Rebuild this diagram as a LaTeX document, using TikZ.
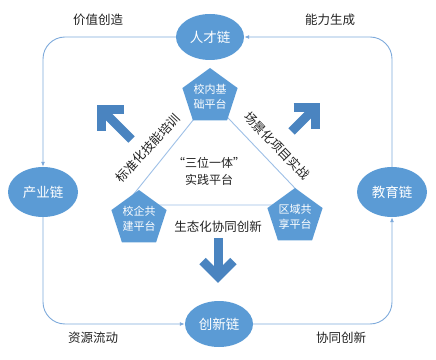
\documentclass[tikz,border=0pt]{standalone}
\usepackage{fontspec}
\newfontfamily\cjkfont{Noto Sans CJK SC}
\usepackage{tikz}
\usetikzlibrary{shapes.geometric, arrows.meta}
\definecolor{ChainBlue}{HTML}{5B9BD5}
\definecolor{ArrowBlue}{HTML}{4A84C0}
\definecolor{LoopBlue}{HTML}{7EAADB}
\definecolor{TriBlue}{HTML}{9DBFE6}
\definecolor{TextDark}{HTML}{222222}

\begin{document}
\begin{tikzpicture}[x=1pt, y=1pt,
  every node/.style={font=\cjkfont\fontsize{12.5}{15}\selectfont, text=TextDark},
  chain/.style={ellipse, fill=ChainBlue, text=white, inner sep=0pt,
    minimum width=68pt, minimum height=46pt, font=\cjkfont\fontsize{13.5}{16}\selectfont},
  platform/.style={regular polygon, regular polygon sides=5, fill=ChainBlue, text=white,
    minimum size=58pt, inner sep=0pt, align=center, font=\cjkfont\fontsize{11}{15}\selectfont},
  flow/.style={LoopBlue, line width=0.9pt, rounded corners=22pt, -{Latex[length=5pt, width=4pt]}},
  tri/.style={TriBlue, line width=0.9pt},
  bigarrow/.style={ArrowBlue, line width=9pt, line join=miter, line cap=butt}]
  \useasboundingbox (0,0) rectangle (436,359);
  % Chains round the loop
  \node[chain] (talent) at (210,322) {人才链};
  \node[chain, minimum width=70pt, minimum height=50pt] (industry) at (43,167) {产业链};
  \node[chain, minimum width=70pt, minimum height=50pt] (education) at (392,167) {教育链};
  \node[chain] (innovation) at (219,35) {创新链};
  % Loop connectors
  \draw[flow] (talent.west) -| (industry.north);
  \draw[flow] (industry.south) |- (innovation.west);
  \draw[flow] (innovation.east) -| (education.south);
  \draw[flow] (education.north) |- (talent.east);
  % Loop labels
  \node (value) at (98,339) {价值创造};
  \node (ability) at (330,339) {能力生成};
  \node (resource) at (93,21) {资源流动};
  \node (cooperate) at (341,21) {协同创新};
  % Triangle behind the platforms
  \coordinate (tri-top) at (210,260);
  \coordinate (tri-left) at (125,154);
  \coordinate (tri-right) at (311,154);
  \draw[tri] (tri-top) -- (tri-left) -- (tri-right) -- cycle;
  % Platforms
  \node[platform] (campus) at (210,262) {校内基\\础平台};
  \node[platform] (enterprise) at (139,140) {校企共\\建平台};
  \node[platform] (region) at (295,142) {区域共\\享平台};
  % Texts inside and along the triangle
  \node[align=center, font=\cjkfont\fontsize{12}{17}\selectfont] (core) at (209,188) {“三位一体”\\实践平台};
  \node[rotate=47] (skill) at (148,211) {标准化技能培训};
  \node[rotate=-46] (scene) at (277,213) {场景化项目实战};
  \node (eco) at (218,132) {生态化协同创新};
  % Big arrows
  \coordinate (ul-tip) at (101.5,249.5);
  \draw[bigarrow] (ul-tip) ++(22,0) -- (ul-tip) -- ++(0,-22);
  \draw[bigarrow] (ul-tip) -- ++(30,-30);
  \coordinate (ur-tip) at (315.5,251.5);
  \draw[bigarrow] (ur-tip) ++(-22,0) -- (ur-tip) -- ++(0,-22);
  \draw[bigarrow] (ur-tip) -- ++(-24,-24);
  \coordinate (dn-tip) at (218,82.4);
  \draw[bigarrow] (dn-tip) ++(-15.5,15.5) -- (dn-tip) -- ++(15.5,15.5);
  \draw[bigarrow] (dn-tip) -- ++(0,38.6);
\end{tikzpicture}
\end{document}
